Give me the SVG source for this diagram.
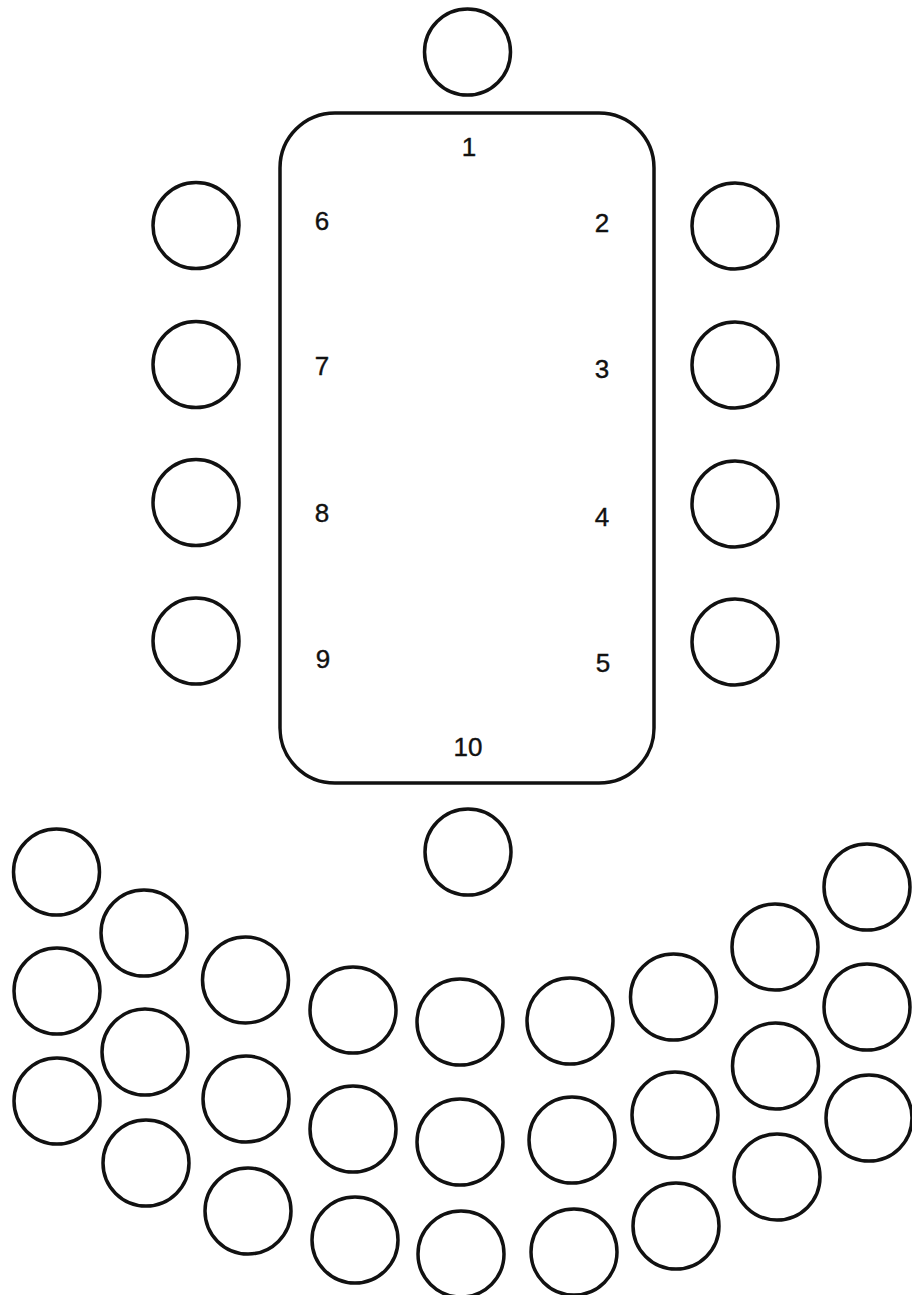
<svg xmlns="http://www.w3.org/2000/svg" width="912" height="1295" viewBox="0 0 912 1295">
<style>
.s{fill:none;stroke:#111;stroke-width:3.5}
.t{font-family:"Liberation Sans",Arial,sans-serif;font-size:26px;fill:#111;stroke:#111;stroke-width:0.4;text-anchor:middle}
</style>
<rect width="912" height="1295" fill="#fff"/>
<g id="table">
<rect class="s" x="280" y="113" width="374" height="670" rx="55" ry="55"/>
<text class="t" x="469" y="156">1</text>
<text class="t" x="602" y="232">2</text>
<text class="t" x="602" y="378">3</text>
<text class="t" x="602" y="526">4</text>
<text class="t" x="603" y="672">5</text>
<text class="t" x="322" y="230">6</text>
<text class="t" x="322" y="375">7</text>
<text class="t" x="322" y="522">8</text>
<text class="t" x="323" y="668">9</text>
<text class="t" x="468" y="756">10</text>
</g>
<g id="table-seats">
<circle class="s" cx="467.5" cy="52" r="43"/>
<circle class="s" cx="468" cy="852" r="43"/>
<circle class="s" cx="196" cy="225.5" r="43"/>
<circle class="s" cx="196" cy="364.5" r="43"/>
<circle class="s" cx="196" cy="502.5" r="43"/>
<circle class="s" cx="196" cy="641" r="43"/>
<circle class="s" cx="735" cy="226" r="43"/>
<circle class="s" cx="735" cy="365" r="43"/>
<circle class="s" cx="735" cy="504" r="43"/>
<circle class="s" cx="735" cy="642" r="43"/>
</g>
<g id="audience">
<circle class="s" cx="56.5" cy="872" r="43"/>
<circle class="s" cx="57" cy="991" r="43"/>
<circle class="s" cx="57" cy="1101" r="43"/>
<circle class="s" cx="144" cy="933" r="43"/>
<circle class="s" cx="145" cy="1052" r="43"/>
<circle class="s" cx="146" cy="1163" r="43"/>
<circle class="s" cx="245.5" cy="980" r="43"/>
<circle class="s" cx="246" cy="1099" r="43"/>
<circle class="s" cx="248" cy="1211" r="43"/>
<circle class="s" cx="353" cy="1010" r="43"/>
<circle class="s" cx="353" cy="1129" r="43"/>
<circle class="s" cx="355" cy="1240" r="43"/>
<circle class="s" cx="460" cy="1022" r="43"/>
<circle class="s" cx="460" cy="1142" r="43"/>
<circle class="s" cx="461" cy="1254" r="43"/>
<circle class="s" cx="570" cy="1021" r="43"/>
<circle class="s" cx="572" cy="1140" r="43"/>
<circle class="s" cx="574" cy="1252" r="43"/>
<circle class="s" cx="673.5" cy="997" r="43"/>
<circle class="s" cx="675" cy="1115" r="43"/>
<circle class="s" cx="676" cy="1226" r="43"/>
<circle class="s" cx="775" cy="947" r="43"/>
<circle class="s" cx="775.5" cy="1066" r="43"/>
<circle class="s" cx="777" cy="1177" r="43"/>
<circle class="s" cx="867" cy="887" r="43"/>
<circle class="s" cx="867" cy="1007" r="43"/>
<circle class="s" cx="869" cy="1118" r="43"/>
</g>
</svg>
